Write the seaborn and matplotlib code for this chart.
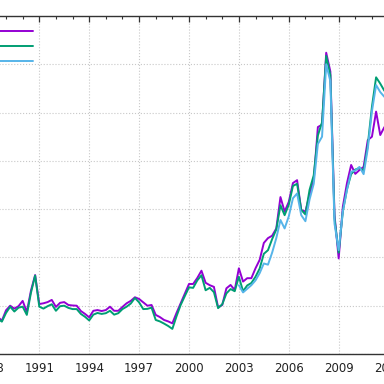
import numpy as np
import pandas as pd
import matplotlib
matplotlib.use("Agg")
import matplotlib.pyplot as plt
from matplotlib.ticker import MultipleLocator
import seaborn as sns

# quarterly crude oil prices, USD per barrel
years = list(range(1988, 2012))

wti = [
    16.9, 17.4, 15.4, 13.8,   # 1988
    18.1, 20.0, 18.8, 19.8,   # 1989
    22.0, 17.4, 26.3, 32.7,   # 1990
    20.7, 21.0, 21.5, 22.4,   # 1991
    19.5, 21.2, 21.5, 20.3,   # 1992
    20.1, 20.0, 17.8, 16.6,   # 1993
    15.2, 17.9, 18.2, 17.8,   # 1994
    18.2, 19.6, 17.9, 17.9,   # 1995
    19.5, 21.0, 22.0, 23.5,   # 1996
    22.8, 21.4, 20.0, 20.3,   # 1997
    16.2, 15.3, 14.1, 13.5,   # 1998
    12.7, 17.0, 21.0, 25.0,   # 1999
    29.0, 29.0, 31.5, 34.5,   # 2000
    29.5, 28.5, 27.8, 19.3,   # 2001
    20.3, 27.2, 28.6, 26.5,   # 2002
    35.5, 30.0, 31.4, 31.4,   # 2003
    35.5, 39.0, 46.0, 48.0,   # 2004
    49.0, 52.0, 65.0, 59.0,   # 2005
    63.0, 70.8, 72.0, 59.6,   # 2006
    59.0, 66.0, 72.0, 94.0,   # 2007
    95.0, 124.8, 117.0, 57.6,  # 2008
    39.6, 61.0, 70.8, 78.3,   # 2009
    74.6, 76.2, 77.5, 88.6,   # 2010
    90.0, 100.4, 90.7, 94.0,  # 2011
]

brent = [
    16.2, 16.3, 14.6, 13.4,
    17.0, 19.6, 17.6, 19.2,
    19.6, 16.2, 25.4, 32.5,
    19.6, 18.8, 19.8, 20.6,
    17.9, 19.8, 20.0, 19.1,
    18.6, 18.6, 16.6, 15.4,
    13.9, 16.3, 17.0, 16.6,
    16.9, 17.9, 16.3, 16.9,
    18.6, 19.6, 20.9, 23.2,
    21.4, 18.6, 18.7, 19.2,
    14.1, 13.5, 12.6, 11.6,
    10.4, 15.6, 20.3, 24.0,
    27.6, 27.4, 30.5, 32.6,
    26.4, 27.4, 25.6, 19.0,
    20.6, 25.1, 26.9, 26.0,
    32.0, 26.0, 28.4, 29.4,
    32.0, 35.4, 41.5, 43.0,
    47.6, 51.6, 61.6, 57.5,
    61.8, 69.6, 70.5, 59.7,
    57.8, 68.0, 74.0, 90.5,
    96.0, 123.5, 115.5, 56.0,
    42.0, 59.1, 68.3, 74.5,
    76.4, 77.0, 76.0, 86.5,
    102.4, 114.6, 112.0, 109.0,
]

# Dubai series only from 2003
dubai_years = list(range(2003, 2012))
dubai = [
    28.5, 25.5, 27.0, 28.5,
    30.5, 33.5, 37.5, 37.0,
    42.0, 48.0, 55.5, 52.0,
    57.0, 64.5, 66.5, 57.5,
    55.0, 64.0, 70.5, 87.0,
    90.0, 120.0, 113.0, 54.0,
    43.0, 59.0, 68.0, 75.5,
    76.0, 77.5, 74.5, 85.0,
    100.5, 111.4, 108.5, 106.5,
]

labels = ["WTI", "Brent", "Dubai"]
colors = ["#9400D3", "#009E73", "#56B4E9"]


def quarters(yrs):
    return [y + q / 4 for y in yrs for q in range(4)]


df = pd.concat([
    pd.DataFrame({"date": quarters(years), "price": wti, "series": labels[0]}),
    pd.DataFrame({"date": quarters(years), "price": brent, "series": labels[1]}),
    pd.DataFrame({"date": quarters(dubai_years), "price": dubai, "series": labels[2]}),
])

sns.set_theme(style="white")
plt.rcParams["font.family"] = ["DejaVu Sans"]
plt.rcParams.update({
    "xtick.direction": "in",
    "ytick.direction": "in",
    "xtick.top": True,
    "ytick.right": True,
    "axes.edgecolor": "#333333",
    "axes.linewidth": 1.0,
})

fig = plt.figure(figsize=(3.84, 3.84), dpi=100)
# the chart is a crop of a wider one: axes run past the left and right edges
ax = fig.add_axes([-60.5 / 384, 30 / 384, 465.7 / 384, 338 / 384])

sns.lineplot(data=df, x="date", y="price", hue="series", hue_order=labels,
             palette=colors, linewidth=1.4, ax=ax)

ax.set_xlim(1985, 2013)
ax.set_ylim(0, 140)
ax.set_xticks(range(1985, 2014, 3))
ax.xaxis.set_minor_locator(MultipleLocator(1))
ax.set_yticks(range(0, 141, 20))
ax.yaxis.set_minor_locator(MultipleLocator(10))
ax.tick_params(which="major", length=4, width=0.9, color="#333333",
               labelsize=8.5, pad=6, labelcolor="#222222")
ax.tick_params(which="minor", length=2.4, width=0.8, color="#333333")
ax.set_xlabel("")
ax.set_ylabel("")
ax.grid(True, which="major", linestyle=":", color="#c8c8c8", linewidth=0.8)

handles, labs = ax.get_legend_handles_labels()
ax.legend(handles, labs, loc="upper right", bbox_to_anchor=(33 / 384, 1 - 27 / 384),
          bbox_transform=fig.transFigure, markerfirst=False, frameon=False,
          handlelength=5, fontsize=8, labelspacing=0.45, borderpad=0,
          borderaxespad=0, handletextpad=0.5)

fig.savefig("out.png", dpi=100)
